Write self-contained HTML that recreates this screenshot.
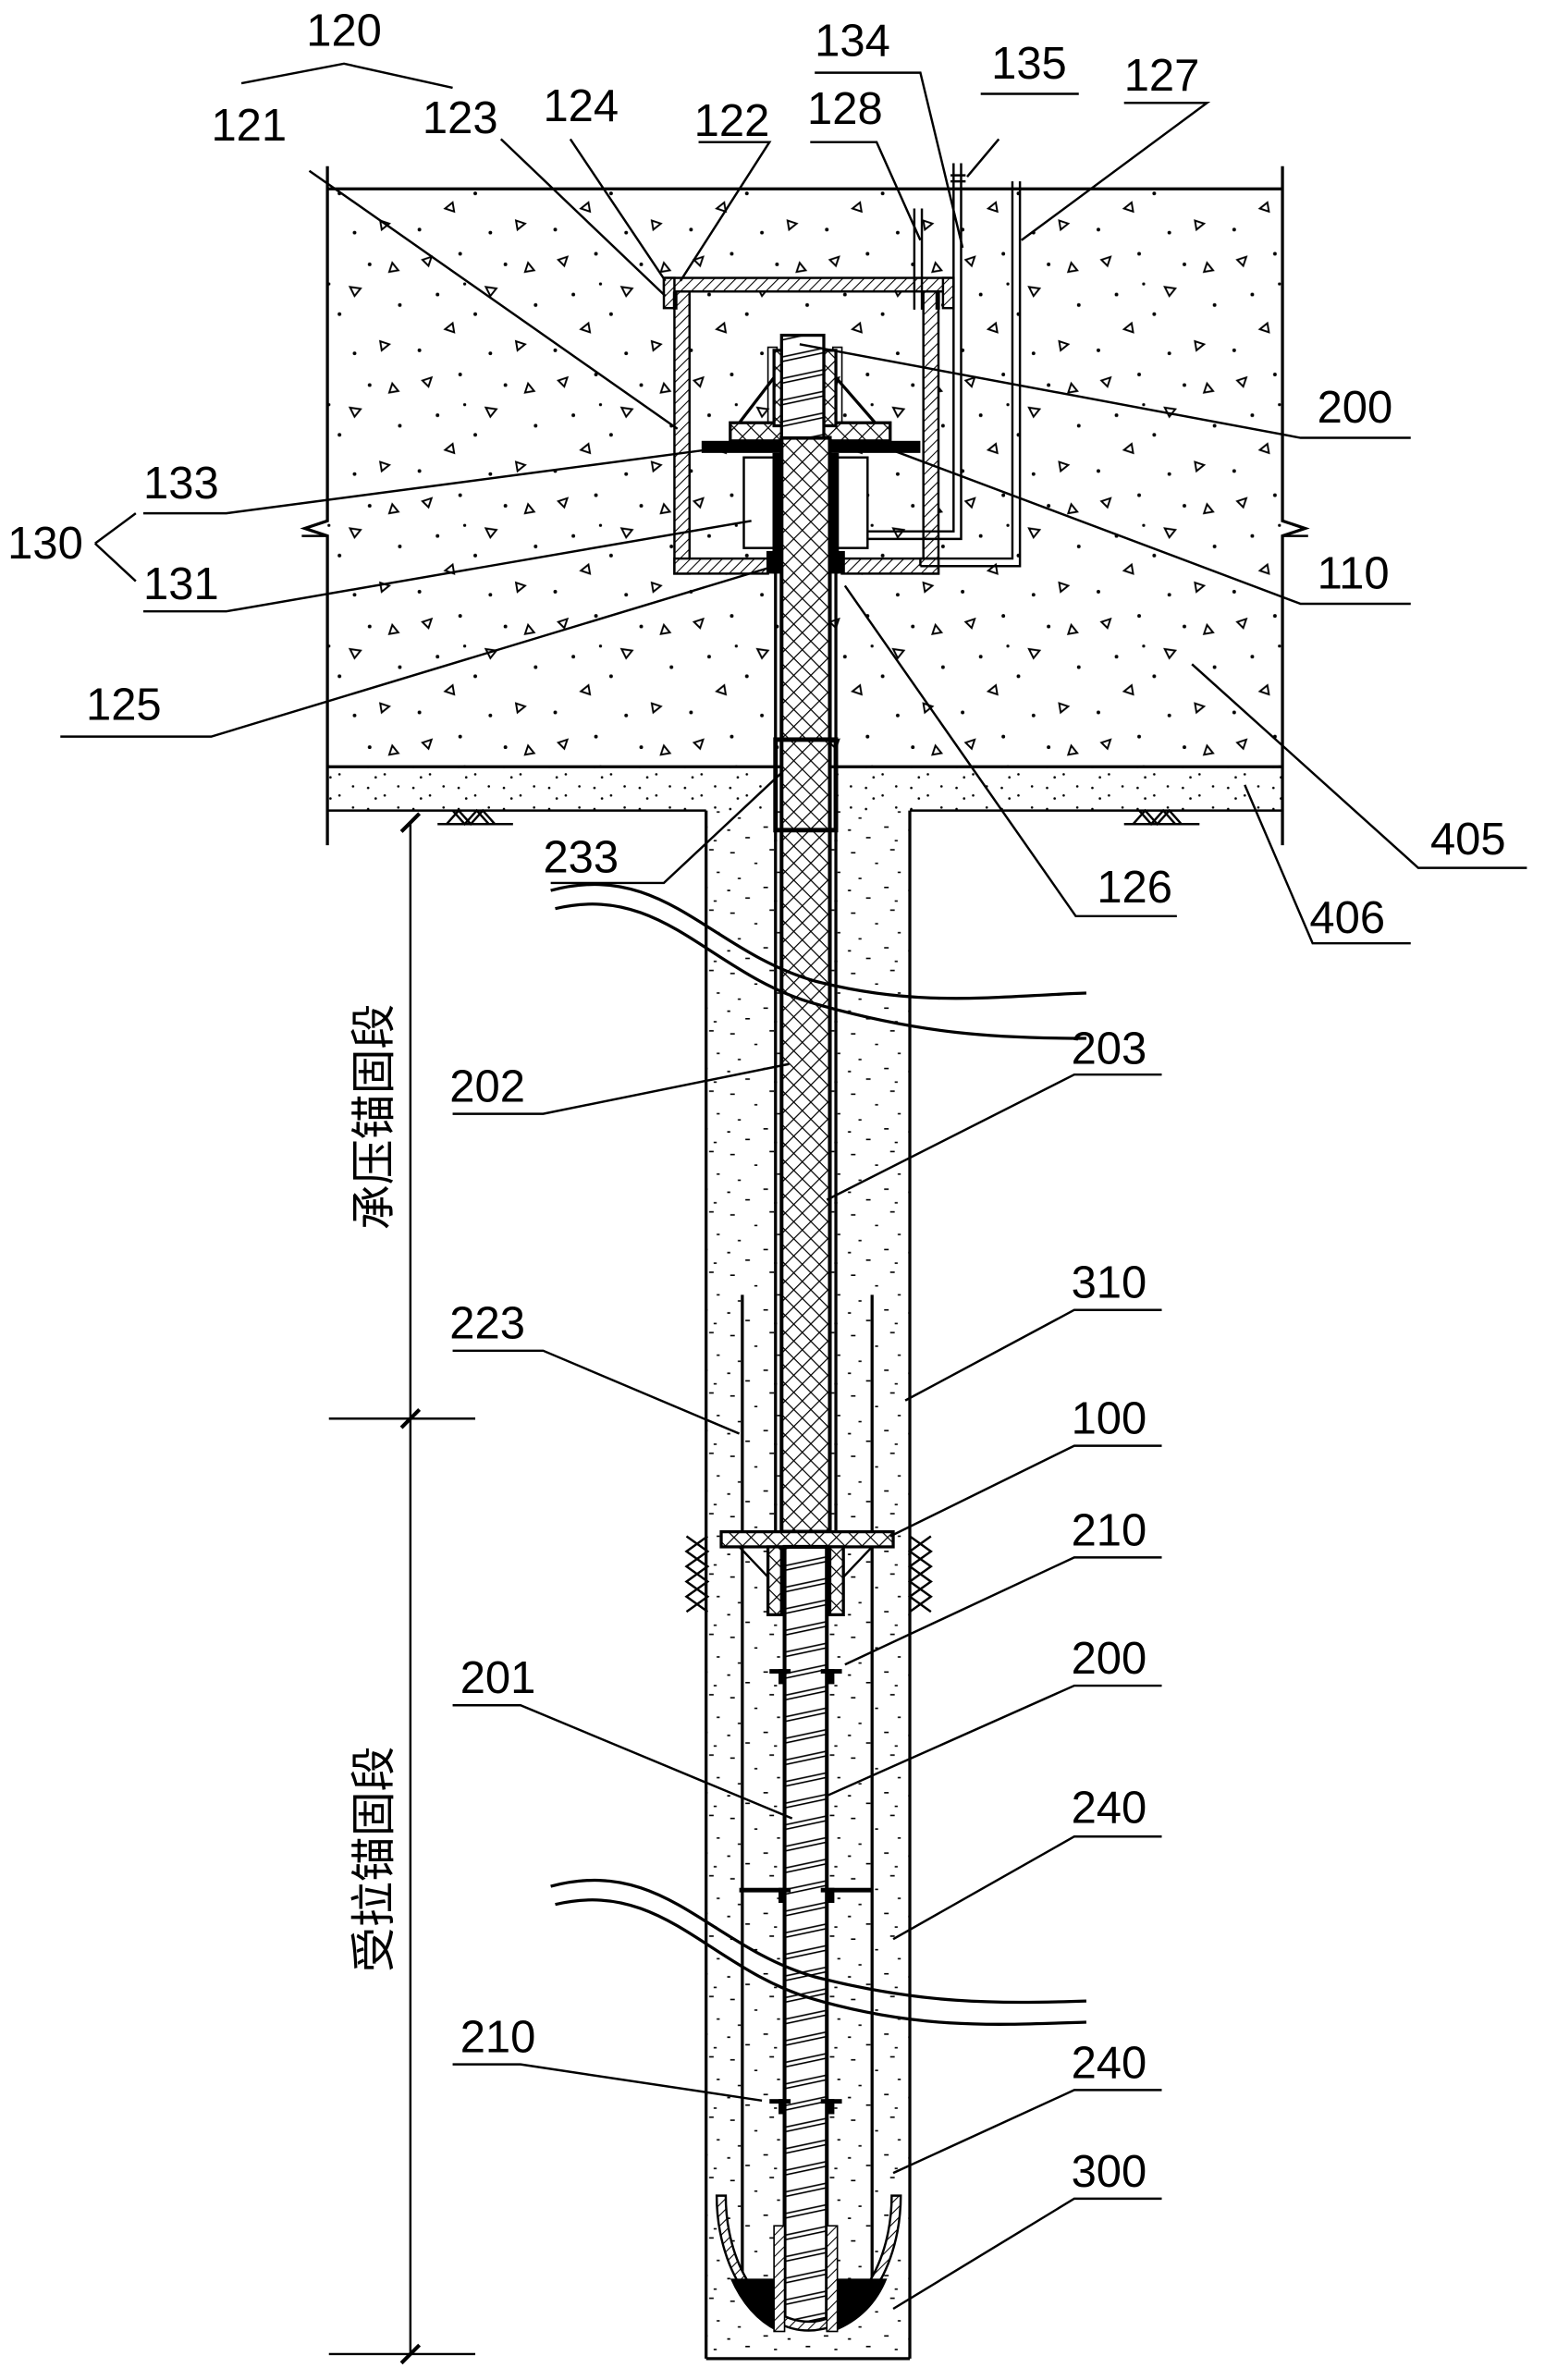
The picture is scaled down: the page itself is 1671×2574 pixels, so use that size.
<!DOCTYPE html>
<html><head><meta charset="utf-8"><style>html,body{margin:0;padding:0;background:#fff}svg{display:block}text{font-family:"Liberation Sans","Noto Sans CJK SC",sans-serif;font-size:30px;fill:#000}</style></head><body>
<svg width="1671" height="2574" viewBox="0 0 1024 1577" xmlns="http://www.w3.org/2000/svg">
<defs>
<pattern id="conc" width="90" height="80" patternUnits="userSpaceOnUse">
<g fill="none" stroke="#000" stroke-width="1.2">
<path d="M10 12 l6 -2 l-2 6 z"/><path d="M52 30 l7 1 l-4 5 z"/><path d="M25 58 l5 -4 l1 6 z"/><path d="M72 66 l6 2 l-5 4 z"/><path d="M80 14 l-2 6 l6 -1 z"/>
</g>
<g fill="#000"><circle cx="35" cy="8" r="1.2"/><circle cx="65" cy="15" r="1.2"/><circle cx="20" cy="35" r="1.2"/><circle cx="45" cy="48" r="1.2"/><circle cx="85" cy="42" r="1.2"/><circle cx="8" cy="72" r="1.2"/><circle cx="55" cy="74" r="1.2"/><circle cx="38" cy="28" r="1"/></g>
</pattern>
<pattern id="grout" width="40" height="40" patternUnits="userSpaceOnUse">
<g stroke="#000" stroke-width="1"><path d="M4 5h3M20 12h2M30 3h3M9 22h2M26 28h3M35 18h2M14 35h3M2 30h2M33 37h2"/></g>
</pattern>
<pattern id="cush" width="30" height="14" patternUnits="userSpaceOnUse">
<g fill="#000"><circle cx="4" cy="4" r="0.8"/><circle cx="15" cy="9" r="0.8"/><circle cx="24" cy="3" r="0.8"/><circle cx="9" cy="11" r="0.8"/></g>
</pattern>
<pattern id="hatch" width="5" height="5" patternUnits="userSpaceOnUse" patternTransform="rotate(45)"><rect width="5" height="5" fill="#fff"/><line x1="0" y1="0" x2="0" y2="5" stroke="#000" stroke-width="1.3"/></pattern>
<pattern id="cross" width="8" height="8" patternUnits="userSpaceOnUse" patternTransform="rotate(45)"><rect width="8" height="8" fill="#fff"/><path d="M0 0V8M0 0H8" stroke="#000" stroke-width="1.5"/></pattern>
<pattern id="thread" width="30" height="14" patternUnits="userSpaceOnUse" patternTransform="rotate(-12)"><rect width="30" height="14" fill="#fff"/><path d="M0 3H30M0 6H30" stroke="#000" stroke-width="1"/></pattern>
</defs>
<!-- slab -->
<rect x="217" y="125" width="633" height="383" fill="url(#conc)"/>
<rect x="217" y="508" width="633" height="29" fill="url(#cush)"/>
<g stroke="#000" stroke-width="2" fill="none">
<path d="M217 125H850"/>
<path d="M217 508H850"/>
<path d="M217 537H468M603 537H850" stroke-width="1.5"/>
<path d="M217 110V345l-15 5 15 5V560"/>
<path d="M850 110V345l15 5-15 5V560"/>
<path d="M200 355h17M850 355h17" stroke-width="1.5"/>
</g>
<!-- ground symbols -->
<g stroke="#000" stroke-width="1.5" fill="none">
<path d="M290 546h50M296 546l8-9 8 9 8-9 8 9M300 537l8 9 8-9 8 9"/>
<path d="M745 546h50M751 546l8-9 8 9 8-9 8 9M755 537l8 9 8-9 8 9"/>
</g>
<!-- pile -->
<rect x="468" y="537" width="135" height="1026" fill="url(#grout)"/>
<g stroke="#000" stroke-width="2" fill="none">
<path d="M468 537V1563M603 537V1563M468 1563H603"/>
<path d="M492 858V1510M578 858V1510" />
</g>
<!-- box -->
<g stroke="#000" stroke-width="1.5">
<rect x="447" y="193" width="10" height="187" fill="url(#hatch)"/>
<rect x="612" y="193" width="10" height="187" fill="url(#hatch)"/>
<rect x="447" y="370" width="62" height="10" fill="url(#hatch)"/>
<rect x="558" y="370" width="64" height="10" fill="url(#hatch)"/>
<rect x="440" y="184" width="192" height="9" fill="url(#hatch)"/>
<rect x="440" y="184" width="7" height="20" fill="url(#hatch)"/>
<rect x="625" y="184" width="7" height="20" fill="url(#hatch)"/>
</g>
<rect x="446" y="193" width="3" height="12" fill="#000"/><rect x="620" y="193" width="3" height="12" fill="#000"/>
<!-- jack 131 -->
<rect x="493" y="303" width="82" height="60" fill="#fff" stroke="#000" stroke-width="1.5"/>
<!-- plate 133 -->
<rect x="465" y="292" width="145" height="8" fill="#000"/>
<!-- anchor nut 110 -->
<path d="M485 282h24v-52h6v52M552 282v-52h6v52h26" fill="none" stroke="#000"/>
<rect x="484" y="280" width="106" height="12" fill="url(#cross)" stroke="#000" stroke-width="2"/>
<rect x="513" y="232" width="8" height="50" fill="url(#cross)" stroke="#000" stroke-width="2"/>
<rect x="546" y="232" width="8" height="50" fill="url(#cross)" stroke="#000" stroke-width="2"/>
<path d="M513 250L490 280M554 250L580 280" stroke="#000" stroke-width="2"/>
<!-- upper rod (202/203) -->
<rect x="512" y="300" width="5" height="80" fill="#000"/><rect x="551" y="300" width="5" height="80" fill="#000"/>
<rect x="508" y="365" width="6" height="15" fill="#000"/><rect x="554" y="365" width="6" height="15" fill="#000"/>
<rect x="518" y="290" width="32" height="725" fill="url(#cross)" stroke="#000" stroke-width="2.5"/>
<rect x="518" y="222" width="28" height="68" fill="url(#thread)" stroke="#000" stroke-width="2"/>
<path d="M514 300V1015M554 300V1015" stroke="#000" stroke-width="2"/>
<rect x="514" y="490" width="40" height="60" fill="none" stroke="#000" stroke-width="3"/>
<!-- pipes -->
<g stroke="#000" stroke-width="1.5" fill="none">
<path d="M606 138V205M611 138V205"/>
<path d="M632 108V352H575M637 108V357H575"/>
<path d="M630 116h10M630 120h10"/>
<path d="M671 120V370H610M676 120V375H610M610 370V375"/>
</g>
<!-- centralizer 100 -->
<rect x="478" y="1015" width="114" height="10" fill="url(#cross)" stroke="#000" stroke-width="2"/>
<rect x="509" y="1025" width="9" height="45" fill="url(#cross)" stroke="#000" stroke-width="2"/>
<rect x="550" y="1025" width="9" height="45" fill="url(#cross)" stroke="#000" stroke-width="2"/>
<path d="M490 1025L509 1045M578 1025L559 1045" stroke="#000" stroke-width="1.5"/>
<g stroke="#000" stroke-width="1.5" fill="none">
<path d="M455 1018l14 10-14 10 14 10-14 10 14 10M469 1018l-14 10 14 10-14 10 14 10-14 10"/>
<path d="M617 1018l-14 10 14 10-14 10 14 10-14 10M603 1018l14 10-14 10 14 10-14 10 14 10"/>
</g>
<!-- lower rod -->
<rect x="520" y="1025" width="28" height="515" fill="url(#thread)" stroke="#000" stroke-width="2.5"/>
<!-- spacers 210 -->
<g fill="#000">
<rect x="510" y="1106" width="14" height="3"/><rect x="516" y="1106" width="5" height="10"/><rect x="544" y="1106" width="14" height="3"/><rect x="548" y="1106" width="5" height="10"/>
<rect x="490" y="1251" width="34" height="3"/><rect x="516" y="1251" width="5" height="10"/><rect x="544" y="1251" width="34" height="3"/><rect x="548" y="1251" width="5" height="10"/>
<rect x="510" y="1391" width="14" height="3"/><rect x="516" y="1391" width="5" height="10"/><rect x="544" y="1391" width="14" height="3"/><rect x="548" y="1391" width="5" height="10"/>
</g>
<!-- bowl 300 -->
<path d="M475 1455 A60 88 0 0 0 597 1455 L591 1455 A54 82 0 0 1 481 1455 Z" fill="url(#hatch)" stroke="#000" stroke-width="1.5"/>
<path d="M484 1510H515V1545 Q495 1535 484 1510Z M553 1510H588 Q578 1535 553 1545Z" fill="#000"/>
<rect x="513" y="1475" width="7" height="70" fill="url(#hatch)" stroke="#000"/>
<rect x="548" y="1475" width="7" height="70" fill="url(#hatch)" stroke="#000"/>
<!-- break lines -->
<g fill="none" stroke="#000" stroke-width="2">
<path d="M365 590 C440 570 470 630 540 650 C610 668 660 660 720 658"/>
<path d="M368 602 C440 585 470 645 540 665 C610 685 660 688 720 688"/>
<path d="M365 1250 C440 1230 470 1290 540 1310 C610 1328 660 1328 720 1326"/>
<path d="M368 1262 C440 1245 470 1305 540 1325 C610 1345 660 1342 720 1340"/>
</g>
<rect x="590" y="658" width="140" height="31" fill="#fff" opacity="0"/>
<!-- dimension -->
<g stroke="#000" stroke-width="1.5" fill="none">
<path d="M272 545V1560"/>
<path d="M218 940H315M218 1560H315"/>
<path d="M266 551l12-12M266 946l12-12M266 1566l12-12" stroke-width="2.5"/>
</g>
<text transform="translate(258,740) rotate(-90)" text-anchor="middle" font-size="34">承压锚固段</text>
<text transform="translate(258,1232) rotate(-90)" text-anchor="middle" font-size="34">受拉锚固段</text>
<!-- leaders -->
<g stroke="#000" stroke-width="1.5" fill="none">
<path d="M160 55L228 42 300 58"/>
<path d="M205 113L449 284"/>
<path d="M332 92L441 196"/>
<path d="M378 92L441 186"/>
<path d="M463 94H510L451 186"/>
<path d="M537 94H581L610 159"/>
<path d="M540 48H610L638 164"/>
<path d="M650 62H715M662 92L641 117"/>
<path d="M745 68H800L677 159"/>
<path d="M530 228L862 290H935"/>
<path d="M575 292L862 400H935"/>
<path d="M95 340H150L468 298"/>
<path d="M95 405H150L498 345"/>
<path d="M40 488H140L510 376"/>
<path d="M560 388L713 607H780"/>
<path d="M790 440L940 575H1012"/>
<path d="M825 520L870 625H935"/>
<path d="M365 585H440L518 512"/>
<path d="M300 738H360L523 705"/>
<path d="M548 795L712 712H770"/>
<path d="M600 928L712 868H770"/>
<path d="M300 895H360L490 950"/>
<path d="M590 1018L712 958H770"/>
<path d="M560 1103L712 1032H770"/>
<path d="M548 1190L712 1117H770"/>
<path d="M300 1130H345L525 1205"/>
<path d="M592 1285L712 1217H770"/>
<path d="M300 1368H345L505 1392"/>
<path d="M592 1440L712 1385H770"/>
<path d="M592 1530L712 1457H770"/>
<path d="M63 360L90 340M63 360L90 385"/>
</g>
<!-- labels -->
<g>
<text x="203" y="30">120</text>
<text x="140" y="93">121</text>
<text x="280" y="88">123</text>
<text x="360" y="80">124</text>
<text x="460" y="90">122</text>
<text x="535" y="82">128</text>
<text x="540" y="37">134</text>
<text x="657" y="52">135</text>
<text x="745" y="60">127</text>
<text x="873" y="280">200</text>
<text x="873" y="390">110</text>
<text x="95" y="330">133</text>
<text x="5" y="370">130</text>
<text x="95" y="397">131</text>
<text x="57" y="477">125</text>
<text x="727" y="598">126</text>
<text x="948" y="566">405</text>
<text x="868" y="618">406</text>
<text x="360" y="578">233</text>
<text x="298" y="730">202</text>
<text x="710" y="705">203</text>
<text x="710" y="860">310</text>
<text x="298" y="887">223</text>
<text x="710" y="950">100</text>
<text x="710" y="1024">210</text>
<text x="710" y="1109">200</text>
<text x="305" y="1122">201</text>
<text x="710" y="1208">240</text>
<text x="305" y="1360">210</text>
<text x="710" y="1377">240</text>
<text x="710" y="1449">300</text>
</g>
</svg>
</body></html>
